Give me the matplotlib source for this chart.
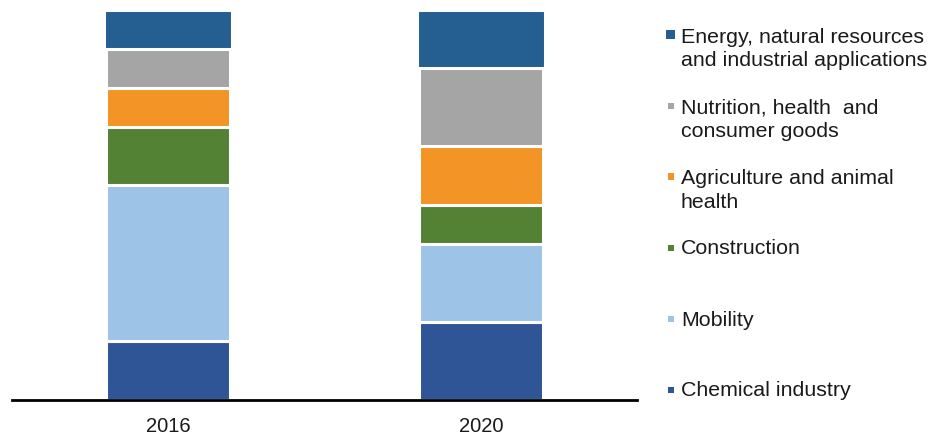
import matplotlib
matplotlib.use("Agg")
import matplotlib.pyplot as plt
from matplotlib.patches import Rectangle

plt.rcParams['font.family'] = ['Liberation Sans', 'DejaVu Sans']

# share of each application area (%), bottom to top of the stack
years = ['2016', '2020']
segments = ['Chemical industry', 'Mobility', 'Construction',
            'Agriculture and animal\nhealth',
            'Nutrition, health  and\nconsumer goods',
            'Energy, natural resources\nand industrial applications']
chemical = [15, 20]
mobility = [40, 20]
construction = [15, 10]
agriculture = [10, 15]
nutrition = [10, 20]
energy = [10, 15]

colors = ['#2f5597', '#9dc3e6', '#548235', '#f39427', '#a5a5a5', '#255e91']

fig = plt.figure(figsize=(9.41, 4.38), dpi=100)
ax = fig.add_axes([12 / 941, 38.5 / 438, 625 / 941, 389.5 / 438])

series = [chemical, mobility, construction, agriculture, nutrition, energy]
x = list(range(len(years)))
bottom = [0] * len(years)
for vals, col in zip(series, colors):
    w = 0.41 if col == colors[-1] else 0.396
    ax.bar(x, vals, width=w, bottom=bottom, color=col,
           edgecolor='white', linewidth=2.2)
    bottom = [b + v for b, v in zip(bottom, vals)]

ax.set_xlim(-0.5, 1.5)
ax.set_ylim(0, 100)
ax.set_xticks(x)
ax.set_xticklabels(years, fontsize=14.5, color='#1a1a1a')
ax.tick_params(axis='x', length=0, pad=12.5)
ax.set_yticks([])
for s in ['top', 'right', 'left']:
    ax.spines[s].set_visible(False)
ax.spines['bottom'].set_linewidth(2)
ax.spines['bottom'].set_color('black')

# legend drawn by hand, top entry first
H = 438.0
line_h = 24.5
baselines = [41.7, 112.7, 183.5, 254.5, 325.5, 396.5]
sizes = [9, 6, 6, 6, 6, 6]
for label, col, yb, sz in zip(segments[::-1], colors[::-1], baselines, sizes):
    yc = yb - 7
    fig.patches.append(Rectangle(((670.5 - sz / 2) / 941, (H - yc - sz / 2) / H),
                                 sz / 941, sz / H, transform=fig.transFigure,
                                 facecolor=col, edgecolor='none'))
    # va='baseline' sits on the last line, so push down by the extra lines
    n_extra = label.count('\n')
    fig.text(681 / 941, (H - yb - n_extra * line_h) / H, label, fontsize=15.4,
             color='#1a1a1a', va='baseline', ha='left', linespacing=1.3)

fig.savefig('out.png', dpi=100)
